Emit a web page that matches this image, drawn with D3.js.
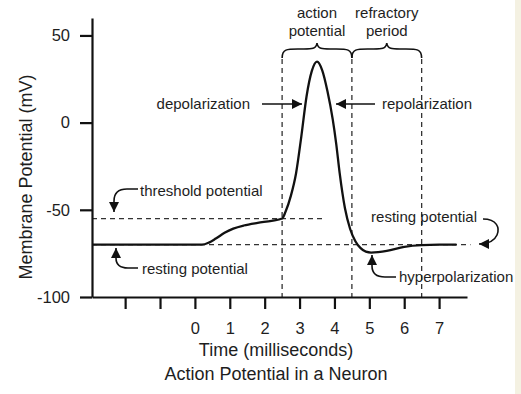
<!DOCTYPE html>
<html>
<head>
<meta charset="utf-8">
<script src="https://cdn.jsdelivr.net/npm/d3@7"></script>
<style>
  body { margin: 0; background: #fff; }
  svg text { font-family: "Liberation Sans", Arial, sans-serif; fill: #1e1e1e; }
</style>
</head>
<body>
<div class="chart"></div>
<script>
// curve (time in ms, membrane potential in mV)
var times     = [-2.95, 0, 0.2, 0.4, 0.6, 0.85, 1.1, 1.4, 1.8, 2.2, 2.5, 2.6, 2.75, 2.9, 3.05, 3.2, 3.35, 3.5, 3.65, 3.8, 3.95, 4.05, 4.15, 4.3, 4.45, 4.6, 4.75, 4.9, 5.05, 5.5, 6.0, 6.5, 7.0, 7.5];
var potential = [-70,  -70, -70, -68.8, -66.5, -63.2, -60.8, -59, -57.5, -56.3, -55, -51, -42, -29, -8, 15, 29.5, 35, 30, 18, 2, -12, -29, -49, -61, -68, -72, -74, -74.5, -73.6, -71.2, -70.2, -70, -70];

var xTicks = [-2, -1, 0, 1, 2, 3, 4, 5, 6, 7];
var yTicks = [50, 0, -50, -100];
var phaseBounds = [2.5, 4.5, 6.5];
var thresholdMv = -55;
var restingMv = -70;
var phaseLabels = [["action", "potential"], ["refractory", "period"]];

var svgWidth = 521;
var svgHeight = 394;

var svg = d3.select('.chart')
  .append('svg')
  .attr('width', svgWidth)
  .attr('height', svgHeight);

// faint paper edge on the right
svg.append('rect')
  .attr('x', 515).attr('y', 0)
  .attr('width', 6).attr('height', svgHeight)
  .attr('fill', '#f4f1e2');

var xScale = d3.scaleLinear().domain([-2.95, 7.8]).range([92, 467]);
var yScale = d3.scaleLinear().domain([-100, 60]).range([297, 18]);

var defs = svg.append('defs');
defs.append('marker')
  .attr('id', 'head')
  .attr('markerUnits', 'userSpaceOnUse')
  .attr('viewBox', '0 0 10 10')
  .attr('refX', 10).attr('refY', 5)
  .attr('markerWidth', 11).attr('markerHeight', 10)
  .attr('orient', 'auto')
  .append('path')
  .attr('d', 'M0,0 L10,5 L0,10 Z')
  .attr('fill', '#111');

// dashed guides
svg.selectAll('.vguide')
  .data(phaseBounds)
  .enter()
  .append('line')
  .attr('class', 'vguide')
  .attr('x1', function (d) { return xScale(d); })
  .attr('x2', function (d) { return xScale(d); })
  .attr('y1', yScale(36.5))
  .attr('y2', yScale(-100))
  .attr('stroke', '#333')
  .attr('stroke-width', 1.3)
  .attr('stroke-dasharray', '5,4');

svg.append('line')
  .attr('x1', xScale(-2.95)).attr('x2', xScale(3.75))
  .attr('y1', yScale(thresholdMv)).attr('y2', yScale(thresholdMv))
  .attr('stroke', '#333').attr('stroke-width', 1.3)
  .attr('stroke-dasharray', '5,4');

svg.append('line')
  .attr('x1', xScale(-2.95)).attr('x2', xScale(7.9))
  .attr('y1', yScale(restingMv)).attr('y2', yScale(restingMv))
  .attr('stroke', '#333').attr('stroke-width', 1.3)
  .attr('stroke-dasharray', '5,4');

// the potential trace
var line = d3.line()
  .x(function (d, i) { return xScale(times[i]); })
  .y(function (d) { return yScale(d); })
  .curve(d3.curveMonotoneX);

svg.append('path')
  .datum(potential)
  .attr('d', line)
  .attr('fill', 'none')
  .attr('stroke', '#111')
  .attr('stroke-width', 2.3);

// axes
var xAxis = d3.axisBottom(xScale)
  .tickValues(xTicks)
  .tickFormat(function (d) { return d >= 0 ? String(d) : ''; })
  .tickSize(12).tickSizeOuter(0).tickPadding(9);

var yAxis = d3.axisLeft(yScale)
  .tickValues(yTicks)
  .tickFormat(function (d) { return String(d); })
  .tickSize(12).tickSizeOuter(0).tickPadding(10);

var gx = svg.append('g')
  .attr('transform', 'translate(0,' + yScale(-100) + ')')
  .call(xAxis);

var gy = svg.append('g')
  .attr('transform', 'translate(' + xScale(-2.95) + ',0)')
  .call(yAxis);

[gx, gy].forEach(function (g) {
  g.select('.domain').attr('stroke', '#111').attr('stroke-width', 2.2);
  g.selectAll('.tick line').attr('stroke', '#111').attr('stroke-width', 2.2);
  g.selectAll('.tick text')
    .style('font-family', '"Liberation Sans", Arial, sans-serif')
    .style('font-size', '16.5px')
    .attr('fill', '#1e1e1e');
});
gx.selectAll('.tick text').attr('dy', '0.95em');

// titles
svg.append('text')
  .attr('x', 276).attr('y', 356)
  .attr('text-anchor', 'middle')
  .style('font-size', '18px')
  .text('Time (milliseconds)');

svg.append('text')
  .attr('x', 276).attr('y', 380)
  .attr('text-anchor', 'middle')
  .style('font-size', '18px')
  .text('Action Potential in a Neuron');

svg.append('text')
  .attr('transform', 'translate(32,177) rotate(-90)')
  .attr('text-anchor', 'middle')
  .style('font-size', '18px')
  .text('Membrane Potential (mV)');

// braces over the phases
function brace(x1, x2, yb) {
  var xm = (x1 + x2) / 2, ym = yb - 9, yt = yb - 15;
  return 'M' + x1 + ',' + yb +
    'C' + x1 + ',' + ym + ' ' + (x1 + 5) + ',' + ym + ' ' + (x1 + (xm - x1) * 0.45) + ',' + ym +
    'C' + (xm - 6) + ',' + ym + ' ' + (xm - 1) + ',' + (ym + 1) + ' ' + xm + ',' + yt +
    'C' + (xm + 1) + ',' + (ym + 1) + ' ' + (xm + 6) + ',' + ym + ' ' + (x2 - (x2 - xm) * 0.45) + ',' + ym +
    'C' + (x2 - 5) + ',' + ym + ' ' + x2 + ',' + ym + ' ' + x2 + ',' + yb;
}

[[0, 1], [1, 2]].forEach(function (p, i) {
  var a = xScale(phaseBounds[p[0]]), b = xScale(phaseBounds[p[1]]);
  svg.append('path')
    .attr('d', brace(a, b, 58))
    .attr('fill', 'none')
    .attr('stroke', '#111')
    .attr('stroke-width', 1.6);
  var t = svg.append('text')
    .attr('text-anchor', 'middle')
    .style('font-size', '15px');
  t.append('tspan').attr('x', (a + b) / 2).attr('y', 18).text(phaseLabels[i][0]);
  t.append('tspan').attr('x', (a + b) / 2).attr('y', 36).text(phaseLabels[i][1]);
});

// annotations
function label(x, y, s, anchor) {
  svg.append('text')
    .attr('x', x).attr('y', y)
    .attr('text-anchor', anchor || 'start')
    .style('font-size', '15px')
    .text(s);
}
function arrow(d) {
  svg.append('path')
    .attr('d', d)
    .attr('fill', 'none')
    .attr('stroke', '#111')
    .attr('stroke-width', 1.6)
    .attr('marker-end', 'url(#head)');
}

label(250, 109, 'depolarization', 'end');
arrow('M262,104 L302,104');
label(382, 109, 'repolarization');
arrow('M375,104 L336,104');

label(140, 196, 'threshold potential');
arrow('M138,189 L127,189 Q114,189 114,201 L114,212');

label(142, 274, 'resting potential');
arrow('M138,268 L128,268 Q116,268 116,258 L116,248');

label(477, 222, 'resting potential', 'end');
arrow('M483,219 C497,219 500,228 497,235 C494,242 487,244 479,244');

label(399, 282, 'hyperpolarization');
arrow('M396,277 L385,277 Q372,277 372,266 L372,255');
</script>
</body>
</html>
